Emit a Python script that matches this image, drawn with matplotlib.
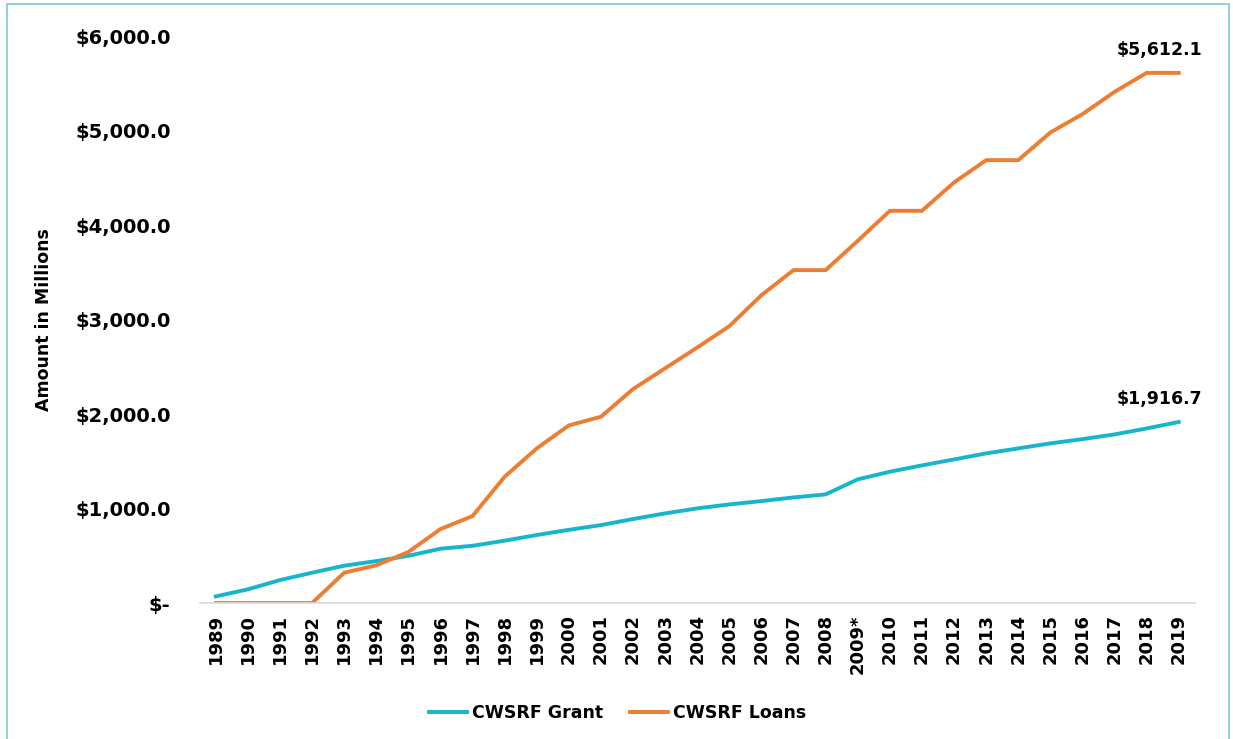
import matplotlib.pyplot as plt
from matplotlib.patches import Rectangle

years = ['1989', '1990', '1991', '1992', '1993', '1994', '1995', '1996', '1997', '1998',
         '1999', '2000', '2001', '2002', '2003', '2004', '2005', '2006', '2007', '2008',
         '2009*', '2010', '2011', '2012', '2013', '2014', '2015', '2016', '2017', '2018', '2019']

grant = [70, 145, 243, 321, 395, 444, 500, 575, 606, 660,
         720, 775, 825, 889, 949, 1002, 1044, 1079, 1118, 1150,
         1309, 1390, 1457, 1520, 1584, 1637, 1690, 1735, 1785, 1848, 1916.7]

loans = [0, 0, 0, 0, 321, 399, 540, 783, 921, 1337,
         1637, 1880, 1972, 2265, 2485, 2705, 2931, 3259, 3524, 3524,
         3834, 4152, 4152, 4452, 4688, 4688, 4981, 5175, 5411, 5612.1, 5612.1]

yticks = [0, 1000, 2000, 3000, 4000, 5000, 6000]
ytick_labels = ['$-', '$1,000.0', '$2,000.0', '$3,000.0', '$4,000.0', '$5,000.0', '$6,000.0']

plt.rcParams['font.family'] = 'DejaVu Sans'
plt.rcParams['font.weight'] = 'bold'

fig = plt.figure(figsize=(12.33, 7.39), dpi=100)
ax = fig.add_axes([0.162, 0.184, 0.807, 0.767])

x = range(len(years))
ax.plot(x, grant, color='#17B5CB', linewidth=2.8, label='CWSRF Grant')
ax.plot(x, loans, color='#ED7D31', linewidth=2.8, label='CWSRF Loans')

ax.annotate('$1,916.7', (x[-1], grant[-1]), xytext=(-14, 10), textcoords='offset points',
            ha='center', va='bottom', fontsize=12.5, fontweight='bold')
ax.annotate('$5,612.1', (x[-1], loans[-1]), xytext=(-14, 10), textcoords='offset points',
            ha='center', va='bottom', fontsize=12.5, fontweight='bold')

ax.set_xlim(-0.5, len(years) - 0.5)
ax.set_ylim(0, 6000)
ax.set_xticks(list(x))
ax.set_xticklabels(years, rotation=90, fontsize=13, fontweight='bold')
ax.set_yticks(yticks)
ax.set_yticklabels(ytick_labels, fontsize=14, fontweight='bold')
ax.tick_params(length=0)
ax.tick_params(axis='y', pad=21)
ax.tick_params(axis='x', pad=8)

for side in ['top', 'right', 'left']:
    ax.spines[side].set_visible(False)
ax.spines['bottom'].set_color('#D9D9D9')
ax.spines['bottom'].set_linewidth(1.2)

ax.set_ylabel('Amount in Millions', fontsize=12.5, fontweight='bold', labelpad=16)

ax.legend(loc='upper center', bbox_to_anchor=(0.42, -0.15), ncol=2, frameon=False,
          fontsize=12.5, handlelength=2.2, columnspacing=1.5, handletextpad=0.3)

fig.patches.append(Rectangle((7 / 1233, -0.05), 1222 / 1233, 0.05 + 1 - 4 / 739,
                             transform=fig.transFigure, fill=False,
                             edgecolor='#7CC8DD', linewidth=1.2))

plt.savefig('out.png', dpi=100)
